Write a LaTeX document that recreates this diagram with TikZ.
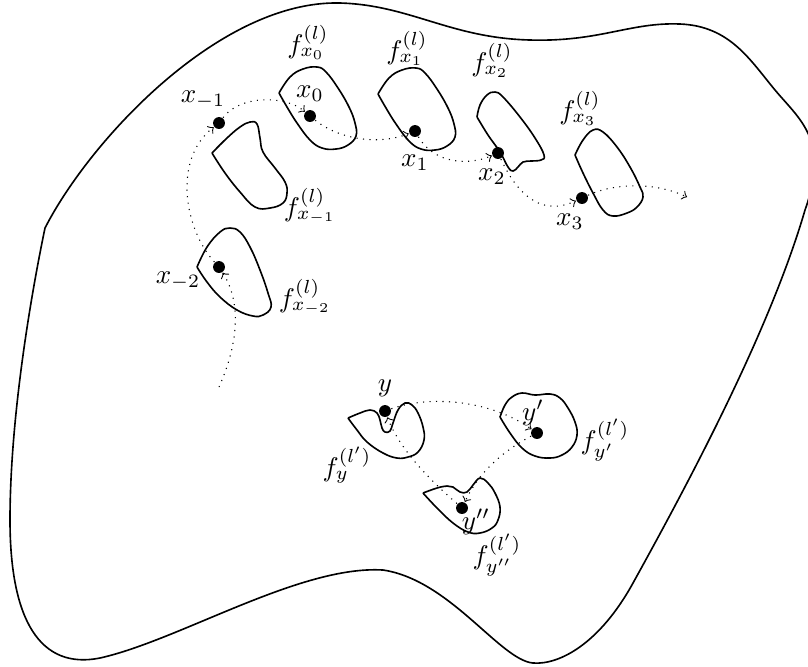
\documentclass[tikz,border=0pt]{standalone}
\usepackage{amssymb, amsmath}
\usepackage{tikz}

\begin{document}
\begin{tikzpicture}[x=0.013cm, y=-0.013cm, semithick,
dot/.style={circle, fill, inner sep=0pt, minimum size=4.4pt},
hop/.style={dotted, thin, ->},
blob/.style={smooth, tension=0.7}
]
  \useasboundingbox (0,0) rectangle (808,666);

  \draw (45,228) .. controls (90,140) and (220,0) .. (340,3)
    .. controls (410,5) and (450,38) .. (530,40)
    .. controls (600,42) and (630,22) .. (680,24)
    .. controls (730,26) and (750,60) .. (775,90)
    .. controls (800,120) and (830,140) .. (805,210)
    .. controls (770,330) and (690,480) .. (633,583)
    .. controls (600,643) and (560,665) .. (533,663)
    .. controls (500,660) and (450,580) .. (383,570)
    .. controls (300,565) and (180,640) .. (100,658)
    .. controls (40,670) and (10,620) .. (10,520)
    .. controls (10,420) and (30,300) .. (45,228);

  \draw plot[blob] coordinates {(197,267) (207,247) (220,232) (230,228) (240,232) (250,247) (260,270) (268,293) (271,307) (263,315) (253,316) (237,310) (220,297) (207,282) (197,267)};
  \draw plot[blob] coordinates {(212,153) (227,138) (240,127) (250,122) (257,124) (260,138) (263,152) (275,168) (285,182) (287,193) (283,203) (270,208) (255,207) (240,192) (225,173) (212,153)};
  \draw plot[blob] coordinates {(279,93) (290,77) (303,69) (317,67) (326,72) (338,88) (349,107) (355,123) (356,136) (348,145) (336,149) (322,148) (310,140) (297,123) (287,107) (279,93)};
  \draw[shift={(99,1)}] plot[blob] coordinates {(279,93) (290,77) (303,69) (317,67) (326,72) (338,88) (349,107) (355,123) (356,136) (348,145) (336,149) (322,148) (310,140) (297,123) (287,107) (279,93)};
  \draw plot[blob] coordinates {(477,117) (480,105) (487,95) (495,92) (503,97) (520,117) (535,138) (544,155) (541,160) (531,161) (523,162) (518,167) (513,171) (508,167) (500,152) (488,135) (477,117)};
  \draw plot[blob] coordinates {(575,155) (583,140) (593,130) (603,132) (617,147) (630,167) (640,187) (643,197) (637,207) (627,213) (613,216) (603,210) (593,193) (583,173) (575,155)};

  \draw plot[blob] coordinates {(348,418) (360,413) (370,410) (377,413) (380,420) (382,428) (385,432) (390,431) (393,423) (398,410) (405,403) (412,405) (418,413) (423,427) (424,440) (418,452) (408,457) (397,458) (383,453) (367,442) (357,430) (348,418)};
  \draw plot[blob] coordinates {(500,417) (505,405) (512,397) (522,393) (535,395) (550,394) (560,398) (568,408) (575,422) (577,435) (572,447) (562,455) (550,458) (535,456) (522,448) (510,433) (500,417)};
  \draw plot[blob] coordinates {(423,493) (437,488) (447,486) (453,487) (460,492) (467,492) (473,485) (480,478) (488,483) (495,493) (500,507) (498,520) (492,528) (480,533) (468,532) (453,523) (437,508) (423,493)};

  \node[dot] (xm2) at (219,267) {};
  \node[dot] (xm1) at (219,123) {};
  \node[dot] (x0) at (310,116) {};
  \node[dot] (x1) at (415,131) {};
  \node[dot] (x2) at (498,153) {};
  \node[dot] (x3) at (582,198) {};
  \node[dot] (y) at (385,411) {};
  \node[dot] (yp) at (537,433) {};
  \node[dot] (ypp) at (462,508) {};
  \coordinate (start) at (219,387);
  \coordinate (stop) at (687,197);

  \node (lxm2) at (178,281) {$x_{-2}$};
  \node (lxm1) at (203,100) {$x_{-1}$};
  \node (lx0) at (310,94) {$x_0$};
  \node (lx1) at (415,163) {$x_1$};
  \node (lx2) at (492,177) {$x_2$};
  \node (lx3) at (570,222) {$x_3$};
  \node (fxm2) at (305,297) {$f^{(l)}_{x_{-2}}$};
  \node (fxm1) at (310,206) {$f^{(l)}_{x_{-1}}$};
  \node (fx0) at (308,42) {$f^{(l)}_{x_0}$};
  \node (fx1) at (407,48) {$f^{(l)}_{x_1}$};
  \node (fx2) at (492,60) {$f^{(l)}_{x_2}$};
  \node (fx3) at (580,108) {$f^{(l)}_{x_3}$};
  \node (ly) at (385,388) {$y$};
  \node (lyp) at (533,413) {$y'$};
  \node (lypp) at (476,522) {$y''$};
  \node (fy) at (347,465) {$f^{(l')}_{y}$};
  \node (fyp) at (605,440) {$f^{(l')}_{y'}$};
  \node (fypp) at (497,555) {$f^{(l')}_{y''}$};

  \draw[hop] (start) .. controls (240,340) and (240,300) .. (xm2);
  \draw[hop] (xm2) .. controls (185,230) and (172,160) .. (xm1);
  \draw[hop] (xm1) .. controls (240,95) and (285,95) .. (x0);
  \draw[hop] (x0) .. controls (340,140) and (380,145) .. (x1);
  \draw[hop] (x1) .. controls (435,165) and (470,165) .. (x2);
  \draw[hop] (x2) .. controls (520,200) and (545,215) .. (x3);
  \draw[hop] (x3) .. controls (610,185) and (650,180) .. (stop);

  \draw[hop] (y) .. controls (430,395) and (490,400) .. (yp);
  \draw[hop] (yp) .. controls (505,450) and (480,470) .. (ypp);
  \draw[hop] (ypp) .. controls (430,480) and (400,450) .. (y);
\end{tikzpicture}
\end{document}
